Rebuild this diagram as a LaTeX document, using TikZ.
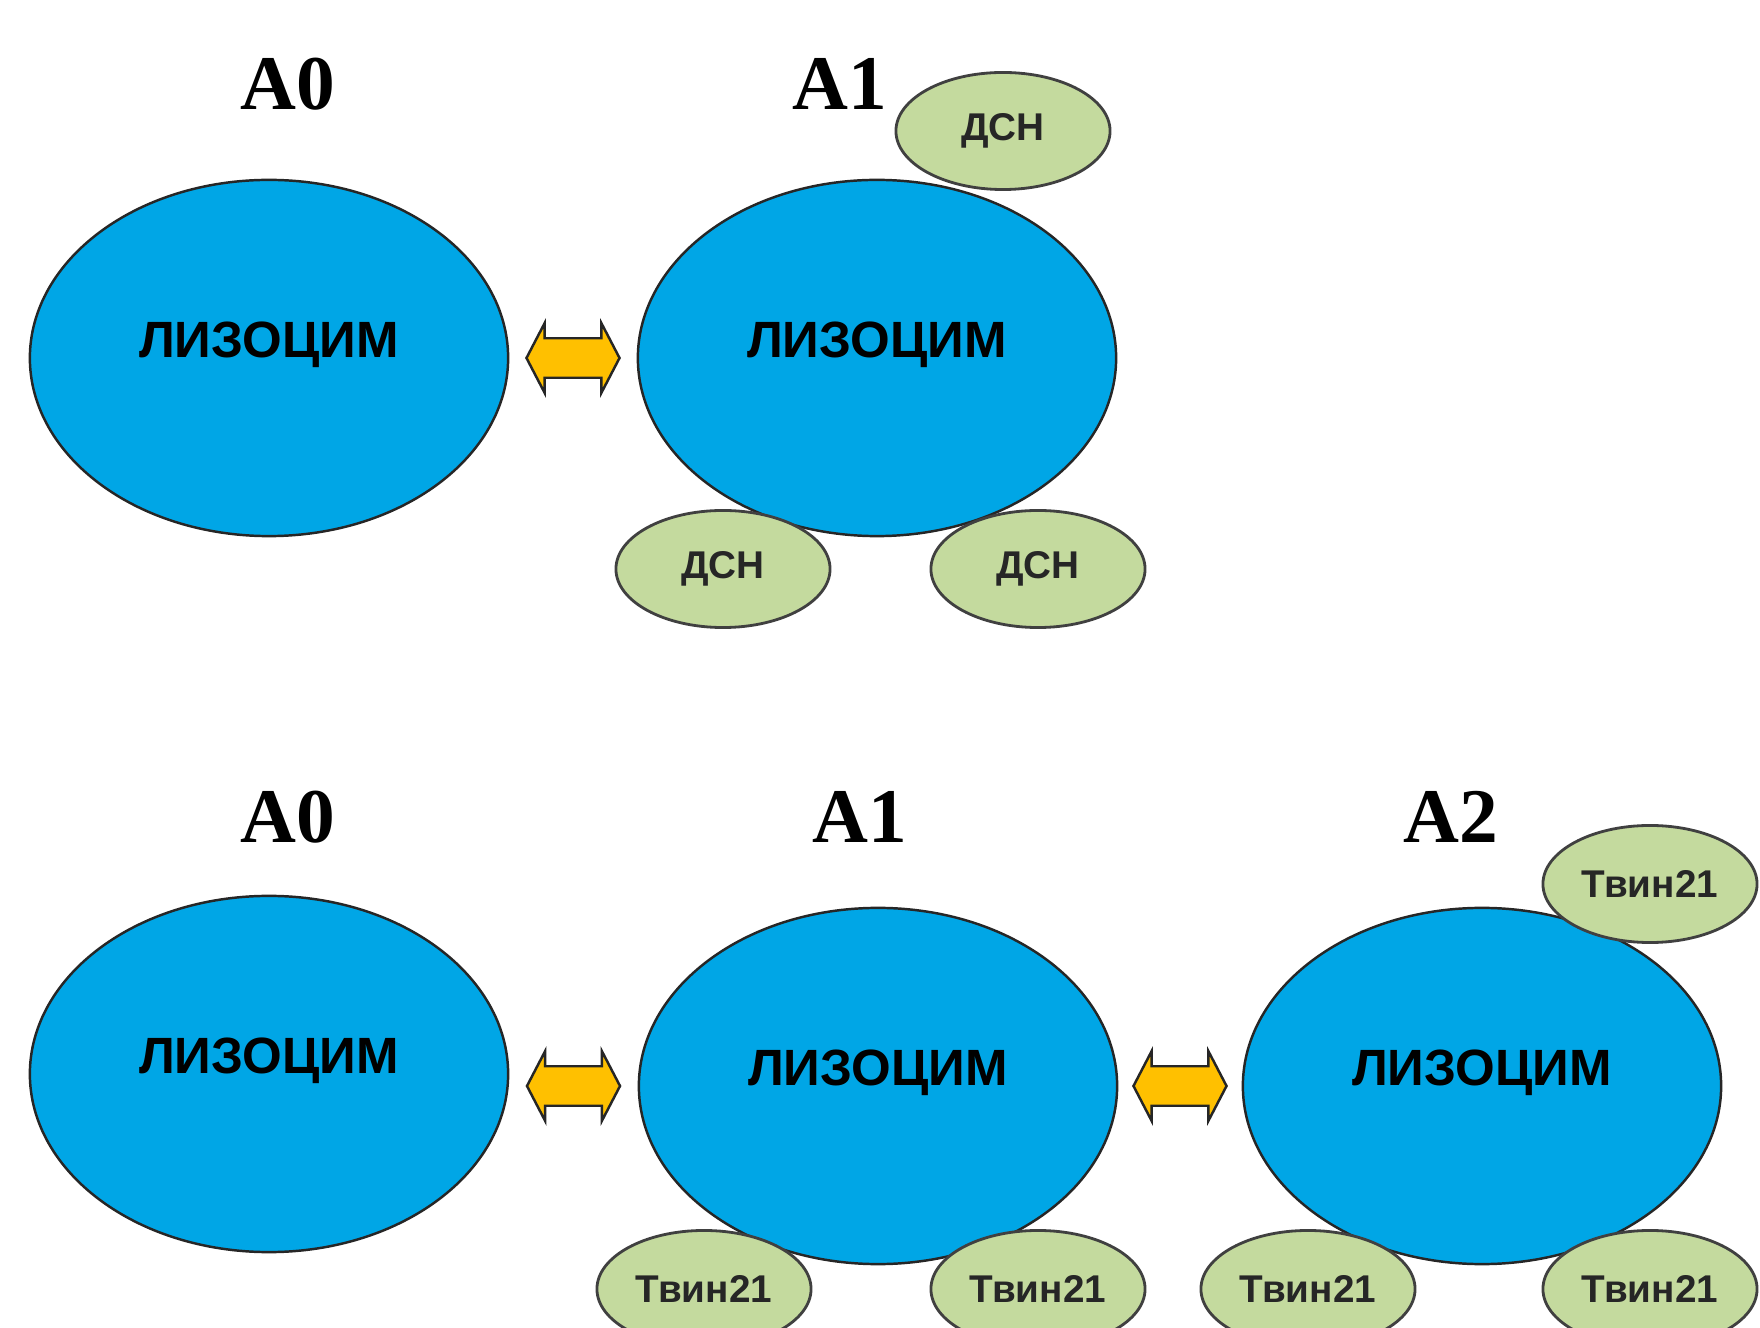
\documentclass[tikz,border=0pt]{standalone}
\usepackage{fontspec}
\setmainfont{Liberation Serif}
\setsansfont{Liberation Sans}
\usetikzlibrary{shapes.geometric,shapes.arrows,calc}

\definecolor{lyzblue}{RGB}{0,166,230}
\definecolor{surfgreen}{RGB}{196,218,158}
\definecolor{arrgold}{RGB}{255,192,0}

\begin{document}
\begin{tikzpicture}[x=0.01cm,y=-0.01cm,
big/.style={ellipse,fill=lyzblue,draw=black!85,line width=0.7pt,minimum width=4.78cm,minimum height=3.56cm,inner sep=0},
small/.style={ellipse,fill=surfgreen,draw=black!75,line width=0.8pt,minimum width=2.14cm,minimum height=1.17cm,inner sep=0,font=\sffamily\bfseries\fontsize{11}{13}\selectfont,text=black!85},
lyztext/.style={font=\sffamily\bfseries\fontsize{14.5}{17}\selectfont},
stage/.style={font=\bfseries\fontsize{22}{26}\selectfont},
swap/.style={double arrow,fill=arrgold,draw=black!85,line width=0.7pt,minimum height=0.93cm,inner xsep=0,inner ysep=0.185cm,double arrow head extend=0.15cm,double arrow tip angle=125}]

\useasboundingbox (0,0) rectangle (1760,1328);

% top row: SDS
\node[big] (lyz1) at (269,358) {};
\node[big] (lyz2) at (877,358) {};
\node[stage] (st1) at (288,84) {A0};
\node[stage] (st2) at (840,84) {A1};

\foreach \n/\x/\y in {1/1003/131,2/723/569,3/1038/569}
{
\node[small] (dsn\n) at (\x,\y) {ДСН};
}

% bottom row: Tween 21
\node[big] (lyz3) at (269,1074) {};
\node[big] (lyz4) at (878,1086) {};
\node[big] (lyz5) at (1482,1086) {};
\node[stage] (st3) at (288,817) {A0};
\node[stage] (st4) at (860,817) {A1};
\node[stage] (st5) at (1451,817) {A2};

\foreach \n/\x/\y in {1/1650/884,2/704/1289,3/1038/1289,4/1308/1289,5/1650/1289}
{
\node[small] (tw\n) at (\x,\y) {Твин21};
}

\foreach \i in {1,...,5}
{
\node[lyztext] (name\i) at ([yshift=0.13cm]lyz\i.center) {ЛИЗОЦИМ};
}

\coordinate (mid1) at ($(lyz1.east)!0.5!(lyz2.west)$);
\coordinate (mid2) at ($(lyz3.east)!0.5!(lyz4.west)$);
\coordinate (mid3) at ($(lyz4.east)!0.5!(lyz5.west)$);
\node[swap] (ar1) at (mid1) {};
\node[swap] (ar2) at (mid2 |- lyz4.center) {};
\node[swap] (ar3) at (mid3) {};
\end{tikzpicture}
\end{document}
